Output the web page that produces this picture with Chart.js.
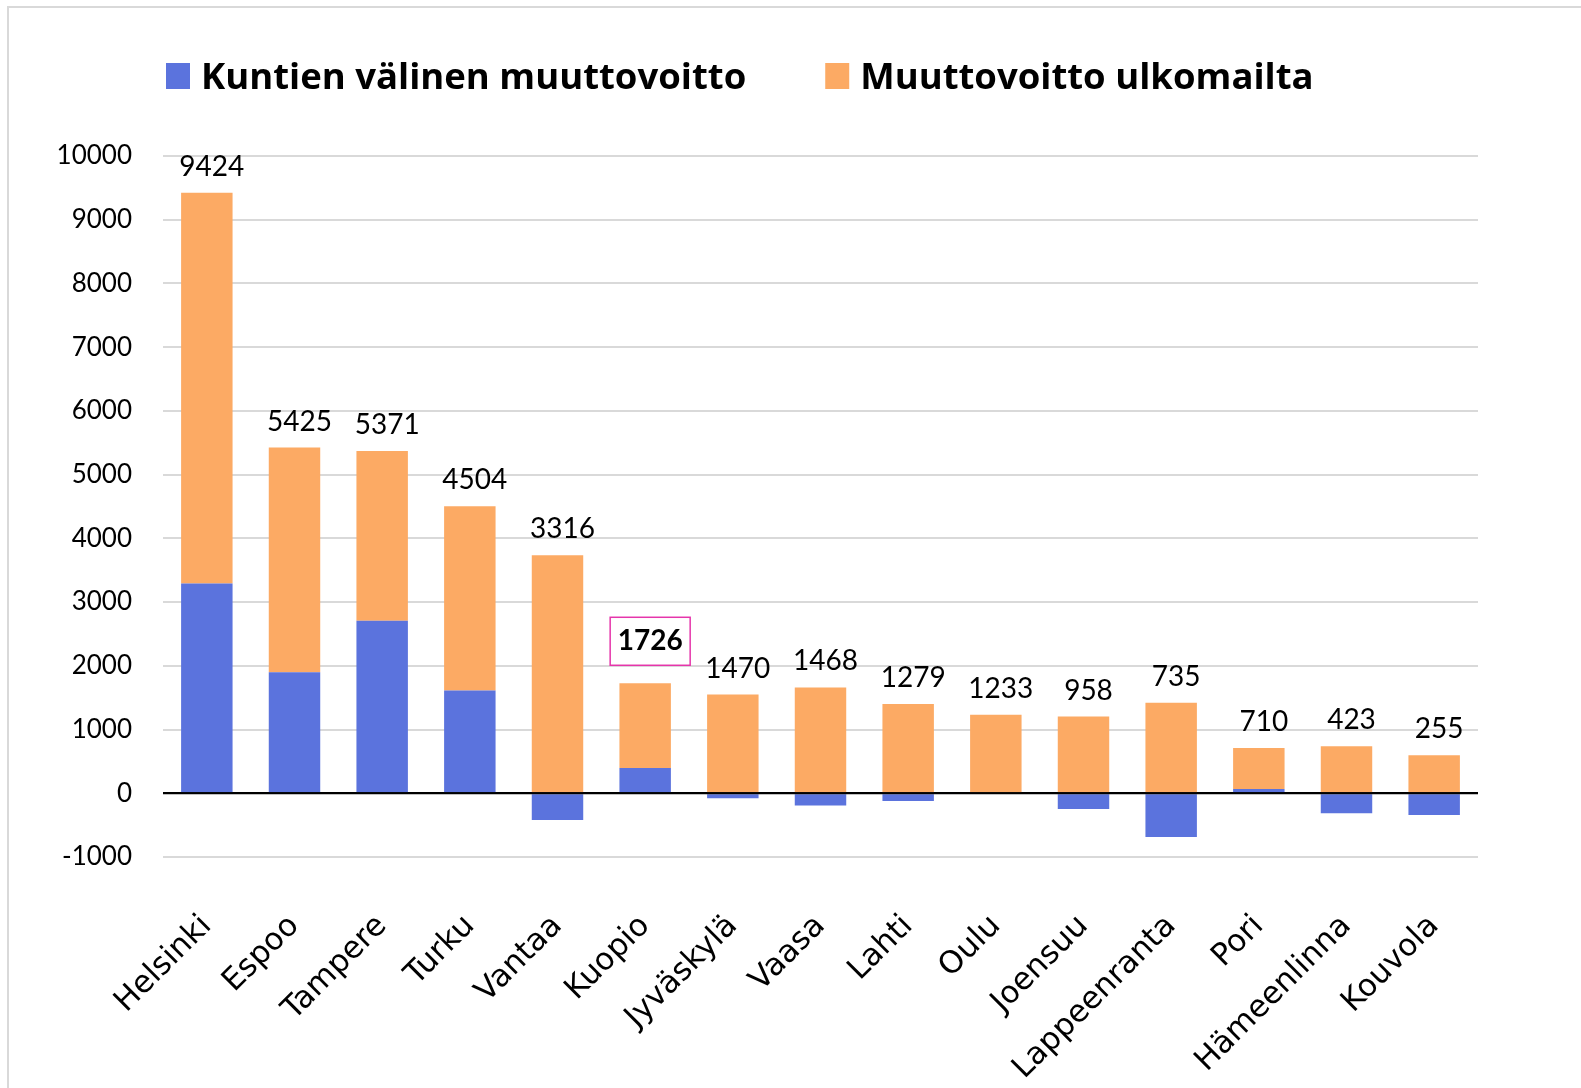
<!DOCTYPE html>
<html><head><meta charset="utf-8">
<script src="https://cdn.jsdelivr.net/npm/chart.js@4.4.1/dist/chart.umd.min.js"></script>
<style>
html,body{margin:0;padding:0;background:#fff;overflow:hidden;}
#wrap{position:relative;width:1581px;height:1088px;}
#frame{position:absolute;left:7px;top:6px;width:1600px;height:1100px;border:2px solid #d9d9d9;pointer-events:none;}
canvas{position:absolute;left:0;top:0;}
</style></head><body>
<div id="wrap"><canvas id="c" width="1581" height="1088"></canvas><div id="frame"></div></div>
<script>
const categories = ['Helsinki','Espoo','Tampere','Turku','Vantaa','Kuopio','Jyväskylä','Vaasa','Lahti','Oulu','Joensuu','Lappeenranta','Pori','Hämeenlinna','Kouvola'];
const domesticGain = [3290,1900,2706,1614,-418,396,-80,-193,-121,0,-245,-685,68,-313,-340];
const foreignGain  = [6134,3525,2665,2890,3734,1330,1550,1661,1400,1233,1203,1420,642,736,595];
const seriesNames = ['Kuntien välinen muuttovoitto','Muuttovoitto ulkomailta'];
const highlightCategory = 'Kuopio';
const yMin = -1000, yMax = 10000, yStep = 1000;

const BLUE = '#5B73DD', ORANGE = '#FCAA64';

const legendPlugin = {
  id: 'customLegend',
  afterDraw(chart) {
    const ctx = chart.ctx;
    ctx.save();
    ctx.font = 'bold 36.5px "Open Sans"';
    ctx.textBaseline = 'middle';
    ctx.textAlign = 'left';
    let x = 166; const y = 76;
    chart.data.datasets.forEach(ds => {
      ctx.fillStyle = ds.backgroundColor;
      ctx.fillRect(x, y - 13, 24, 26);
      x += 24 + 11;
      ctx.fillStyle = '#000';
      ctx.fillText(ds.label, x, y + 3);
      x += ctx.measureText(ds.label).width + 79;
    });
    ctx.restore();
  }
};

const totalsPlugin = {
  id: 'totals',
  afterDatasetsDraw(chart) {
    const ctx = chart.ctx;
    const y = chart.scales.y;
    const y0 = y.getPixelForValue(0);
    ctx.save();
    ctx.strokeStyle = '#000';
    ctx.lineWidth = 2;
    ctx.beginPath();
    ctx.moveTo(chart.chartArea.left, y0);
    ctx.lineTo(chart.chartArea.right, y0);
    ctx.stroke();

    const meta = chart.getDatasetMeta(1);
    ctx.textAlign = 'center';
    ctx.textBaseline = 'middle';
    categories.forEach((c, i) => {
      const total = domesticGain[i] + foreignGain[i];
      const el = meta.data[i];
      const hi = c === highlightCategory;
      const cx = el.x + 5;
      const cy = el.y - (hi ? 42 : 26);
      ctx.font = (hi ? 'bold ' : '') + '28px Lato';
      ctx.fillStyle = '#000';
      ctx.fillText(String(total), cx, cy);
      if (hi) {
        ctx.strokeStyle = '#E535AB';
        ctx.lineWidth = 1.5;
        ctx.strokeRect(cx - 40, cy - 24, 80, 48);
      }
    });
    ctx.restore();
  }
};

new Chart(document.getElementById('c'), {
  type: 'bar',
  data: {
    labels: categories,
    datasets: [
      { label: seriesNames[0], data: domesticGain, backgroundColor: BLUE, borderWidth: 0 },
      { label: seriesNames[1], data: foreignGain, backgroundColor: ORANGE, borderWidth: 0 }
    ]
  },
  options: {
    responsive: false,
    animation: false,
    devicePixelRatio: 1,
    layout: { padding: { top: 156, left: 0, right: 103, bottom: 0 } },
    datasets: { bar: { barPercentage: 0.587, categoryPercentage: 1.0 } },
    plugins: { legend: { display: false }, tooltip: { enabled: false } },
    scales: {
      x: {
        stacked: true,
        grid: { display: false },
        border: { display: false },
        afterFit(s) { s.height = 231; },
        ticks: {
          autoSkip: false, maxRotation: 45, minRotation: 45,
          color: '#000', padding: 43,
          font: { family: 'DejaVu Sans', size: 31 }
        }
      },
      y: {
        stacked: true,
        min: yMin, max: yMax,
        afterFit(s) { s.width = 163; },
        border: { display: false },
        grid: {
          drawTicks: false,
          color: ctx => ctx.tick && ctx.tick.value === 0 ? '#000' : '#d9d9d9',
          lineWidth: 2
        },
        ticks: {
          stepSize: yStep, padding: 31, color: '#000',
          font: { family: 'Lato', size: 26 },
          callback: v => String(v)
        }
      }
    }
  },
  plugins: [legendPlugin, totalsPlugin]
});
</script>
</body></html>
